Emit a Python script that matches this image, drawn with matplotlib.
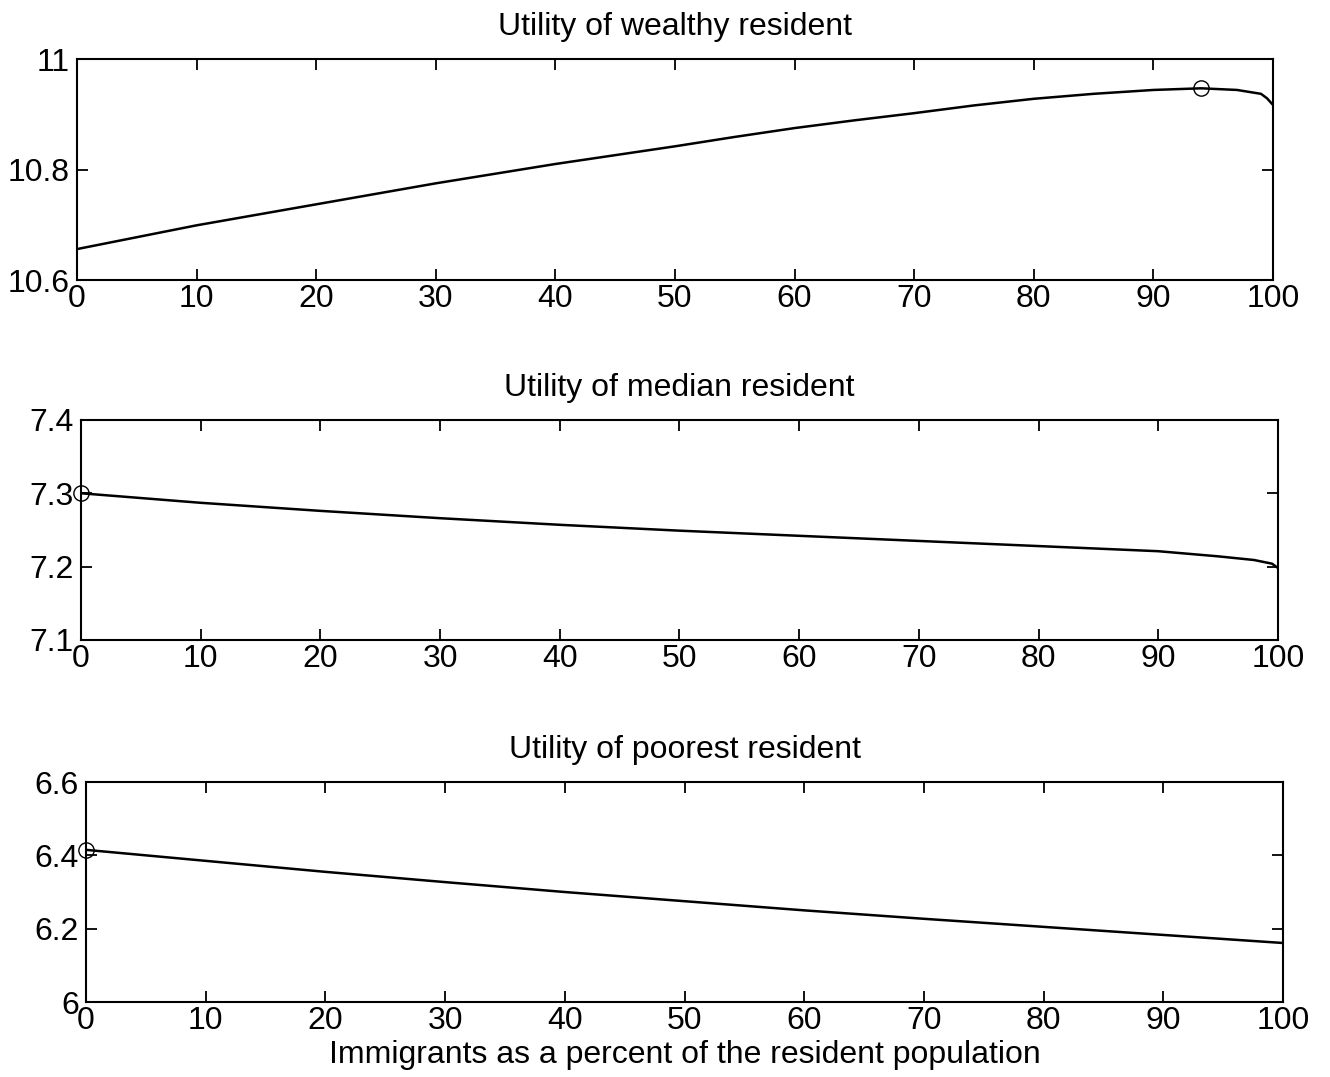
import matplotlib
matplotlib.use("Agg")
import matplotlib.pyplot as plt
from matplotlib.ticker import FormatStrFormatter

plt.rcParams['font.family'] = ['Liberation Sans', 'DejaVu Sans']

# percent of immigrants in resident population
x_wealthy = [0, 10, 20, 30, 40, 45, 50, 55, 60, 65, 70, 75, 80, 85, 90,
             94, 97, 99, 99.5, 100]
u_wealthy = [10.656, 10.699, 10.737, 10.775, 10.810, 10.826, 10.842, 10.859,
             10.875, 10.889, 10.902, 10.916, 10.928, 10.937, 10.944,
             10.947, 10.944, 10.937, 10.929, 10.917]
opt_wealthy = (94, 10.947)

x_median = [0, 10, 20, 30, 40, 50, 60, 70, 80, 90, 95, 98, 99.5, 100]
u_median = [7.300, 7.287, 7.276, 7.266, 7.257, 7.249, 7.242, 7.235,
            7.228, 7.221, 7.214, 7.209, 7.204, 7.198]
opt_median = (0, 7.300)

x_poor = [0, 10, 20, 30, 40, 50, 60, 70, 80, 90, 100]
u_poor = [6.415, 6.385, 6.355, 6.327, 6.300, 6.275, 6.250, 6.227,
          6.205, 6.183, 6.161]
opt_poor = (0, 6.415)

panels = [
    ("Utility of wealthy resident", x_wealthy, u_wealthy, opt_wealthy,
     (10.6, 11.0), [10.6, 10.8, 11.0], [0.0579, 0.740, 0.8992, 0.2052]),
    ("Utility of median resident", x_median, u_median, opt_median,
     (7.1, 7.4), [7.1, 7.2, 7.3, 7.4], [0.0609, 0.4058, 0.9, 0.2043]),
    ("Utility of poorest resident", x_poor, u_poor, opt_poor,
     (6.0, 6.6), [6.0, 6.2, 6.4, 6.6], [0.0647, 0.0696, 0.9, 0.2043]),
]

fig = plt.figure(figsize=(13.3, 10.77), dpi=100)

for title, xs, ys, opt, ylim, yticks, pos in panels:
    ax = fig.add_axes(pos)
    ax.plot(xs, ys, color='black', lw=1.8)
    ax.plot([opt[0]], [opt[1]], 'o', mfc='none', mec='black', ms=11, mew=1.0,
            clip_on=False)
    ax.set_xlim(0, 100)
    ax.set_ylim(*ylim)
    ax.set_xticks(range(0, 101, 10))
    ax.set_yticks(yticks)
    ax.yaxis.set_major_formatter(FormatStrFormatter('%g'))
    ax.tick_params(direction='in', top=True, right=True, length=8, width=1.3,
                   labelsize=23)
    ax.tick_params(axis='x', pad=3)
    ax.tick_params(axis='y', pad=5)
    for s in ax.spines.values():
        s.set_linewidth(1.5)
    ax.set_title(title, fontsize=23, pad=17)

ax.set_xlabel("Immigrants as a percent of the resident population",
              fontsize=23, labelpad=3)

fig.savefig("out.png", dpi=100)
plt.close(fig)
